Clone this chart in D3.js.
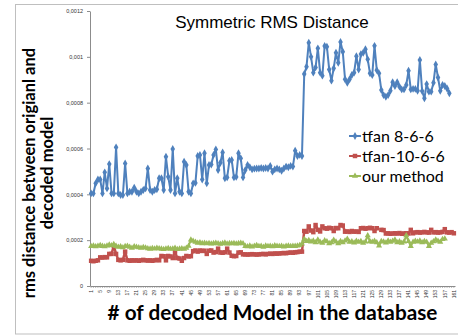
<!DOCTYPE html>
<html>
<head>
<meta charset="utf-8">
<script src="https://cdn.jsdelivr.net/npm/d3@7"></script>
<style>
  body { margin: 0; background: #fff; }
  svg { display: block; }
</style>
</head>
<body>
<div id="root"><svg width="458" height="336"></svg></div>
<script>
// all series values are in units of 1e-4
const tfan866 = [
  4.04, 4.04, 4.48, 4.65, 4.65, 4.04, 4.96, 4.26, 5.32, 4.04,
  4.04, 6.05, 4.04, 3.97, 3.97, 5.35, 4.04, 4.11, 4.11, 4.29,
  4.11, 4.04, 4.11, 4.19, 4.26, 5.13, 4.19, 4.11, 4.19, 4.22,
  4.70, 4.70, 4.19, 5.64, 4.77, 4.19, 5.98, 4.04, 4.70, 4.11,
  4.04, 5.42, 5.28, 4.11, 4.04, 4.48, 4.50, 5.67, 5.72, 4.65,
  5.79, 4.48, 5.28, 5.30, 5.72, 5.96, 5.06, 5.38, 5.83, 4.70,
  4.74, 5.47, 5.50, 4.74, 4.76, 5.79, 5.57, 4.74, 5.06, 5.28,
  5.18, 5.09, 5.12, 5.13, 5.13, 5.15, 5.13, 5.15, 5.13, 5.24,
  4.99, 5.09, 5.13, 5.09, 5.03, 5.13, 5.21, 5.18, 5.24, 5.21,
  5.90, 5.67, 5.72, 5.67,
  9.25, 9.57, 10.62, 10.0, 9.31, 9.54, 10.37, 9.31, 9.18, 10.47,
  10.44, 9.45, 8.96, 9.50, 10.18, 9.74, 10.65, 10.22, 9.02, 8.87,
  9.02, 9.21, 9.31, 10.03, 9.45, 10.12, 10.18, 10.33, 9.89, 9.28,
  9.21, 10.48, 9.42, 9.28, 8.55, 8.33, 8.26, 8.33, 8.52, 8.89,
  8.73, 8.89, 8.70, 8.58, 8.58, 8.77, 9.39, 8.58, 8.60, 8.60,
  8.52, 9.86, 8.51, 8.19, 8.81, 8.48, 8.48, 8.87, 9.67, 9.10,
  8.52, 8.77, 8.73, 8.62, 8.41
];

const tfan1066 = [
  1.10, 1.08, 1.10, 1.12, 1.25, 1.24, 1.26, 1.25, 1.40, 1.40,
  1.75, 1.40, 1.14, 1.12, 1.14, 1.50, 1.12, 1.10, 1.12, 1.11,
  1.12, 1.10, 1.12, 1.14, 1.12, 1.11, 1.12, 1.10, 1.12, 1.14,
  1.12, 1.31, 1.30, 1.12, 1.31, 1.29, 1.22, 1.50, 1.22, 1.20,
  1.10, 1.22, 1.31, 1.29, 1.30, 1.52, 1.55, 1.50, 1.55, 1.53,
  1.54, 1.40, 1.54, 1.55, 1.46, 1.48, 1.63, 1.46, 1.45, 1.47,
  1.63, 1.46, 1.32, 1.30, 1.31, 1.46, 1.47, 1.38, 1.38, 1.37,
  1.38, 1.39, 1.38, 1.37, 1.38, 1.39, 1.40, 1.38, 1.40, 1.41,
  1.40, 1.42, 1.41, 1.42, 1.43, 1.44, 1.43, 1.45, 1.46, 1.45,
  1.47, 1.48, 1.50, 1.50,
  2.40, 2.37, 2.60, 2.42, 2.35, 2.66, 2.45, 2.38, 2.60, 2.52,
  2.50, 2.54, 2.52, 2.40, 2.53, 2.52, 2.66, 2.64, 2.37, 2.38,
  2.36, 2.40, 2.37, 2.38, 2.36, 2.52, 2.53, 2.50, 2.52, 2.54,
  2.52, 2.40, 2.52, null, 2.45, 2.44, 2.29, 2.30, 2.28, 2.29,
  2.30, 2.29, 2.31, 2.28, 2.29, 2.30, 2.29, 2.45, 2.30, 2.34,
  2.35, 2.33, 2.34, 2.36, 2.34, 2.33, 2.45, 2.34, 2.35, 2.33,
  2.34, 2.36, 2.48, 2.34, 2.33, 2.35, 2.30
];

const ourMethod = [
  1.73, 1.76, 1.72, 1.75, 1.78, 1.74, 1.72, 1.76, 1.80, 1.77,
  1.82, 1.74, 1.70, 1.72, 1.68, 1.73, 1.75, 1.70, 1.66, 1.72,
  1.70, 1.68, 1.66, 1.69, 1.67, 1.64, 1.62, 1.65, 1.63, 1.66,
  1.64, 1.62, 1.60, 1.63, 1.65, 1.61, 1.63, 1.66, 1.60, 1.62,
  1.64, 1.61, 1.66, 1.75, 2.02, 1.96, 1.92, 1.88, 1.90, 1.86,
  1.88, 1.85, 1.87, 1.84, 1.86, 1.88, 1.85, 1.83, 1.86, 1.89,
  1.84, 1.86, 1.85, 1.87, 1.84, 1.86, 1.88, 1.85, 1.74, 1.72,
  1.76, 1.71, 1.75, 1.78, 1.73, 1.74, 1.70, 1.76, 1.73, 1.75,
  1.72, 1.77, 1.74, 1.73, 1.75, 1.71, 1.74, 1.76, 1.73, 1.75,
  1.74, 1.76, 1.78, 1.84,
  2.05, 1.95, 2.00, 1.93, 1.97, 1.90, 2.02, 1.92, 1.88, 1.98,
  1.94, 1.86, 1.90, 2.01, 1.93, 1.85, 1.95, 1.90, 1.97, 2.05,
  1.92, 1.94, 1.89, 1.96, 1.92, 1.95, 1.88, 1.93, 2.20, 1.94,
  1.92, 1.96, 1.90, 1.76, 1.95, 1.93, 1.89, 1.97, 1.92, 1.96,
  2.02, 1.90, 1.94, 1.88, 1.93, 2.20, 1.95, 1.74, 1.92, 1.96,
  1.93, 1.97, 1.90, 1.95, 1.92, 1.74, 1.88, 1.94, 2.02, 1.96,
  1.92, 2.04, 2.06
];

const categories = d3.range(1, 162);
const xTickLabels = [
  1, 5, 9, 13, 17, 21, 25, 29, 33, 37, 41, 45, 49, 53, 57, 61, 65, 69, 73, 77, 81,
  85, 89, 93, 97, 101, 105, 109, 113, 117, 121, 125, 129, 133, 137, 141, 145, 149,
  153, 157, 161
];
const yTicks = [0, 2, 4, 6, 8, 10, 12];
const yTickLabels = ['0', '0,0002', '0,0004', '0,0006', '0,0008', '0,001', '0,0012'];
const seriesNames = ['tfan 8-6-6', 'tfan-10-6-6', 'our method'];

function drawChart() {
  const plotLeft = 90;
  const plotRight = 455;
  const plotTop = 11;
  const plotBottom = 286;
  const axisColor = '#8c8c8c';

  const svg = d3.select('#root svg');

  // chart frame
  svg.append('rect')
    .attr('x', 15.5)
    .attr('y', 4.5)
    .attr('width', 470)
    .attr('height', 329.5)
    .attr('fill', '#fff')
    .attr('stroke', '#bfbfbf');

  const xScale = d3.scaleBand().domain(categories).range([plotLeft, plotRight]);
  const yScale = d3.scaleLinear().domain([0, 12]).range([plotBottom, plotTop]);
  const cx = (i) => xScale(categories[i]) + xScale.bandwidth() / 2;

  const yAxis = d3.axisLeft(yScale)
    .tickValues(yTicks)
    .tickFormat((d, i) => yTickLabels[i])
    .tickSize(3)
    .tickSizeOuter(0)
    .tickPadding(4);
  svg.append('g')
    .attr('id', 'y_axis_g')
    .attr('transform', `translate(${plotLeft} 0)`)
    .call(yAxis)
    .call((g) => g.select('.domain').attr('stroke', axisColor))
    .call((g) => g.selectAll('.tick line').attr('stroke', axisColor))
    .call((g) => g.selectAll('text')
      .attr('font-family', 'Liberation Sans')
      .attr('font-size', '5.5px')
      .attr('fill', '#333'));

  const xAxis = d3.axisBottom(xScale)
    .tickSize(2)
    .tickSizeOuter(0)
    .tickFormat((d) => (xTickLabels.includes(d) ? d : ''));
  svg.append('g')
    .attr('id', 'x_axis_g')
    .attr('transform', `translate(0 ${plotBottom})`)
    .call(xAxis)
    .call((g) => g.select('.domain').attr('stroke', axisColor))
    .call((g) => g.selectAll('.tick line').attr('stroke', axisColor).attr('stroke-width', 0.6))
    .call((g) => g.selectAll('text')
      .attr('transform', 'rotate(-90)')
      .attr('x', -4)
      .attr('y', 0)
      .attr('dy', '0.35em')
      .attr('text-anchor', 'end')
      .attr('font-family', 'Liberation Sans')
      .attr('font-size', '5px')
      .attr('fill', '#333'));

  const series = [
    { values: tfan866, color: '#4f81bd', symbol: d3.symbolDiamond, size: 18, width: 2 },
    { values: tfan1066, color: '#c0504d', symbol: d3.symbolSquare, size: 20, width: 2.5 },
    { values: ourMethod, color: '#9bbb59', symbol: d3.symbolTriangle, size: 16, width: 2 }
  ];

  const line = d3.line()
    .defined((d) => d != null)
    .x((d, i) => cx(i))
    .y((d) => yScale(d));

  series.forEach((s) => {
    const g = svg.append('g').attr('class', 'series');
    g.append('path')
      .attr('d', line(s.values))
      .attr('fill', 'none')
      .attr('stroke', s.color)
      .attr('stroke-width', s.width)
      .attr('stroke-linejoin', 'round');
    const points = s.values.map((v, i) => ({ v, i })).filter((d) => d.v != null);
    g.selectAll('path.marker')
      .data(points)
      .enter()
      .append('path')
      .attr('class', 'marker')
      .attr('transform', (d) => `translate(${cx(d.i)} ${yScale(d.v)})`)
      .attr('d', d3.symbol().type(s.symbol).size(s.size))
      .attr('fill', s.color);
  });

  // legend
  const legend = svg.append('g').attr('transform', 'translate(349 136)');
  series.forEach((s, i) => {
    const row = legend.append('g').attr('transform', `translate(0 ${i * 20})`);
    row.append('line')
      .attr('x1', 0)
      .attr('x2', 12)
      .attr('stroke', s.color)
      .attr('stroke-width', 2);
    row.append('path')
      .attr('transform', 'translate(6 0)')
      .attr('d', d3.symbol().type(s.symbol).size(s.size))
      .attr('fill', s.color);
    row.append('text')
      .attr('x', 13)
      .attr('dy', '0.36em')
      .attr('font-family', 'Lato')
      .attr('font-size', '16px')
      .attr('fill', '#000')
      .text(seriesNames[i]);
  });

  svg.append('text')
    .attr('x', 272)
    .attr('y', 28)
    .attr('text-anchor', 'middle')
    .attr('font-family', 'Liberation Sans')
    .attr('font-size', '17px')
    .attr('fill', '#000')
    .text('Symmetric RMS Distance');

  svg.append('text')
    .attr('transform', 'translate(35 173) rotate(-90)')
    .attr('text-anchor', 'middle')
    .attr('font-family', 'Lato')
    .attr('font-weight', 'bold')
    .attr('font-size', '16.5px')
    .attr('fill', '#000')
    .text('rms distance between origianl and');

  svg.append('text')
    .attr('transform', 'translate(53 173) rotate(-90)')
    .attr('text-anchor', 'middle')
    .attr('font-family', 'Lato')
    .attr('font-weight', 'bold')
    .attr('font-size', '16.5px')
    .attr('fill', '#000')
    .text('decoded model');

  svg.append('text')
    .attr('x', 272.5)
    .attr('y', 320)
    .attr('text-anchor', 'middle')
    .attr('font-family', 'Lato')
    .attr('font-weight', 'bold')
    .attr('font-size', '20.75px')
    .attr('fill', '#000')
    .text('# of decoded Model in the database');
}

window.addEventListener('load', function() {
  drawChart();
});
</script>
</body>
</html>
